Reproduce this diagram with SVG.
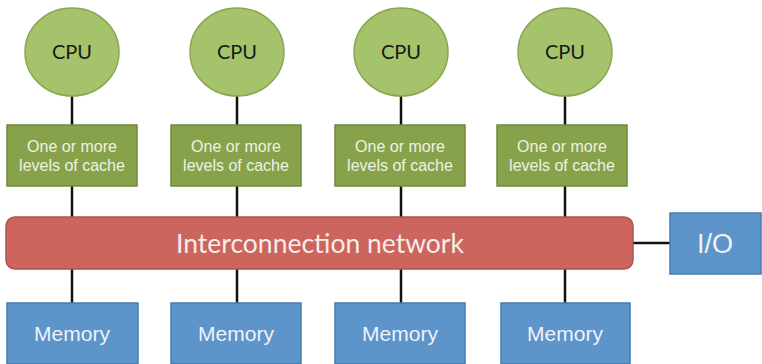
<svg xmlns="http://www.w3.org/2000/svg" width="762" height="364" viewBox="0 0 762 364">
  <style>
    .cpu { fill: #a5c36a; stroke: #8aa653; stroke-width: 1.5; }
    .cache { fill: #87a24a; stroke: #6f8a3a; stroke-width: 1.5; }
    .bus { fill: #cc655e; stroke: #b0514a; stroke-width: 1.5; }
    .blue { fill: #5d94c9; stroke: #457bb0; stroke-width: 1.5; }
    .link { stroke: #111; stroke-width: 2.5; fill: none; }
    .cpu-t { font-family: Lato, "Liberation Sans", sans-serif; font-size: 20px; fill: #1a1a1a; text-anchor: middle; }
    .cache-t { font-family: "Liberation Sans", Arial, sans-serif; font-size: 16px; fill: #eef2e4; text-anchor: middle; }
    .mem-t { font-family: "Liberation Sans", Arial, sans-serif; font-size: 21px; fill: #eef3f9; text-anchor: middle; }
    .bus-t { font-family: Lato, "Liberation Sans", sans-serif; font-size: 26.5px; fill: #f8ecea; text-anchor: middle; }
    .io-t { font-family: "Liberation Sans", Arial, sans-serif; font-size: 27px; fill: #eef3f9; text-anchor: middle; }
  </style>

  <!-- wiring between the blocks -->
  <g id="connectors">
    <line class="link" x1="72" y1="96" x2="72" y2="125"/>
    <line class="link" x1="72" y1="186" x2="72" y2="217"/>
    <line class="link" x1="72" y1="269" x2="72" y2="303"/>
    <line class="link" x1="237" y1="96" x2="237" y2="125"/>
    <line class="link" x1="237" y1="186" x2="237" y2="217"/>
    <line class="link" x1="237" y1="269" x2="237" y2="303"/>
    <line class="link" x1="401" y1="96" x2="401" y2="125"/>
    <line class="link" x1="401" y1="186" x2="401" y2="217"/>
    <line class="link" x1="401" y1="269" x2="401" y2="303"/>
    <line class="link" x1="565" y1="96" x2="565" y2="125"/>
    <line class="link" x1="565" y1="186" x2="565" y2="217"/>
    <line class="link" x1="565" y1="269" x2="565" y2="303"/>
    <line class="link" x1="633" y1="243" x2="670" y2="243"/>
  </g>

  <!-- processors -->
  <g id="cpu1"><ellipse class="cpu" cx="72" cy="52" rx="47" ry="44"/><text class="cpu-t" x="72" y="59">CPU</text></g>
  <g id="cpu2"><ellipse class="cpu" cx="237" cy="52" rx="47" ry="44"/><text class="cpu-t" x="237" y="59">CPU</text></g>
  <g id="cpu3"><ellipse class="cpu" cx="401" cy="52" rx="47" ry="44"/><text class="cpu-t" x="401" y="59">CPU</text></g>
  <g id="cpu4"><ellipse class="cpu" cx="565" cy="52" rx="47" ry="44"/><text class="cpu-t" x="565" y="59">CPU</text></g>

  <!-- caches -->
  <g id="cache1"><rect class="cache" x="7" y="125" width="130" height="61"/><text class="cache-t" x="72" y="152">One or more</text><text class="cache-t" x="72" y="171">levels of cache</text></g>
  <g id="cache2"><rect class="cache" x="171" y="125" width="130" height="61"/><text class="cache-t" x="236" y="152">One or more</text><text class="cache-t" x="236" y="171">levels of cache</text></g>
  <g id="cache3"><rect class="cache" x="335" y="125" width="130" height="61"/><text class="cache-t" x="400" y="152">One or more</text><text class="cache-t" x="400" y="171">levels of cache</text></g>
  <g id="cache4"><rect class="cache" x="497" y="125" width="130" height="61"/><text class="cache-t" x="562" y="152">One or more</text><text class="cache-t" x="562" y="171">levels of cache</text></g>

  <!-- shared network -->
  <g id="network"><rect class="bus" x="6" y="217" width="627" height="52" rx="9"/><text class="bus-t" x="320" y="253">Interconnection network</text></g>

  <!-- I/O -->
  <g id="io"><rect class="blue" x="670" y="213" width="91" height="61"/><text class="io-t" x="715" y="253">I/O</text></g>

  <!-- memories -->
  <g id="mem1"><rect class="blue" x="7" y="303" width="131" height="61"/><text class="mem-t" x="72" y="341">Memory</text></g>
  <g id="mem2"><rect class="blue" x="171" y="303" width="130" height="61"/><text class="mem-t" x="236" y="341">Memory</text></g>
  <g id="mem3"><rect class="blue" x="335" y="303" width="130" height="61"/><text class="mem-t" x="400" y="341">Memory</text></g>
  <g id="mem4"><rect class="blue" x="501" y="303" width="129" height="61"/><text class="mem-t" x="565" y="341">Memory</text></g>
</svg>
